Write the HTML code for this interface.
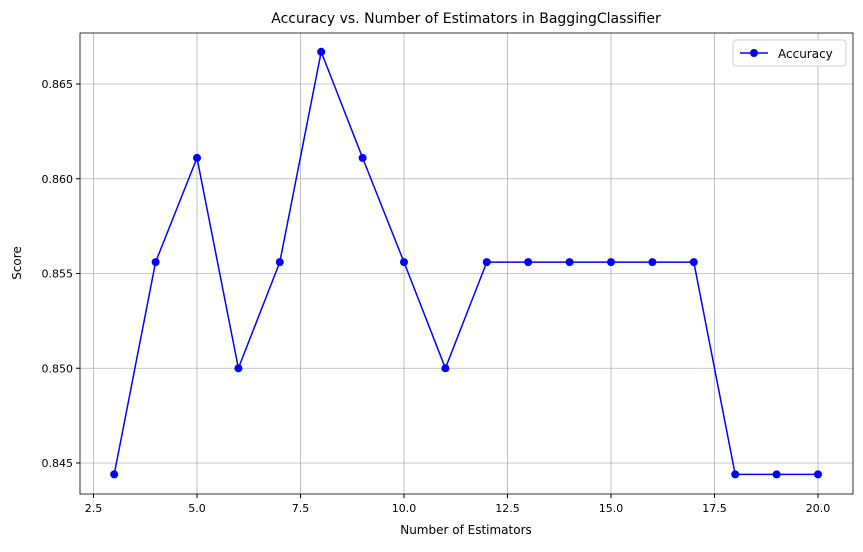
<!DOCTYPE html>
<html><head><meta charset="utf-8"><style>
body{margin:0;background:#fff;font-family:"Liberation Sans","DejaVu Sans",sans-serif}
</style></head><body>
<svg id="chart" width="863" height="547" xmlns="http://www.w3.org/2000/svg" font-family="DejaVu Sans, Liberation Sans, sans-serif">
<text x="466" y="23" text-anchor="middle" font-size="14">Accuracy vs. Number of Estimators in BaggingClassifier</text>
<text x="466" y="534" text-anchor="middle" font-size="12">Number of Estimators</text>
<text transform="translate(21,263) rotate(-90)" text-anchor="middle" font-size="12">Score</text>
<g id="grid"></g><g id="ticks"></g><g id="series"></g>
<rect x="80" y="33" width="773" height="461" fill="none" stroke="#000" stroke-width="0.8"/>
<g>
<rect x="733" y="40" width="113" height="26" fill="#fff" stroke="#ccc" rx="3"/>
<line x1="740" y1="53" x2="768" y2="53" stroke="#0000ff" stroke-width="1.5"/>
<circle cx="754" cy="53" r="4" fill="#0000ff"/>
<text x="778" y="58" font-size="12">Accuracy</text>
</g>
</svg>
<script>
const estimators=[3,4,5,6,7,8,9,10,11,12,13,14,15,16,17,18,19,20];
const accuracy=[0.8444,0.8556,0.8611,0.85,0.8556,0.8667,0.8611,0.8556,0.85,0.8556,0.8556,0.8556,0.8556,0.8556,0.8556,0.8444,0.8444,0.8444];
const xTicks=[2.5,5.0,7.5,10.0,12.5,15.0,17.5,20.0];
const yTicks=[0.845,0.850,0.855,0.860,0.865];
const sx=v=>197+(v-5)*41.4;
const sy=v=>463-(v-0.845)/0.005*94.75;
const NS="http://www.w3.org/2000/svg";
const grid=document.getElementById('grid'),ticks=document.getElementById('ticks'),ser=document.getElementById('series');
function mk(tag,attrs,parent){const e=document.createElementNS(NS,tag);for(const k in attrs)e.setAttribute(k,attrs[k]);parent.appendChild(e);return e;}
xTicks.forEach(t=>{const x=sx(t);
const g=mk('line',{x1:x,x2:x,y1:33,y2:494,stroke:'#b0b0b0','stroke-width':0.8},grid);


mk('line',{x1:x,x2:x,y1:494,y2:498,stroke:'#000'},ticks);
const tx=mk('text',{x:x,y:512,'text-anchor':'middle','font-size':11},ticks);tx.textContent=t.toFixed(1);

});
yTicks.forEach(t=>{const y=sy(t);
const g=mk('line',{x1:80,x2:853,y1:y,y2:y,stroke:'#b0b0b0','stroke-width':0.8},grid);


mk('line',{x1:76,x2:80,y1:y,y2:y,stroke:'#000'},ticks);
const tx=mk('text',{x:73,y:y+4,'text-anchor':'end','font-size':11},ticks);tx.textContent=t.toFixed(3);

});
const pl=mk('polyline',{points:estimators.map((e,i)=>sx(e)+','+sy(accuracy[i])).join(' '),fill:'none',stroke:'#0000ff','stroke-width':1.5},ser);


estimators.forEach((e,i)=>{const c=mk('circle',{cx:sx(e),cy:sy(accuracy[i]),r:4,fill:'#0000ff'},ser);

});
</script>
</body></html>
